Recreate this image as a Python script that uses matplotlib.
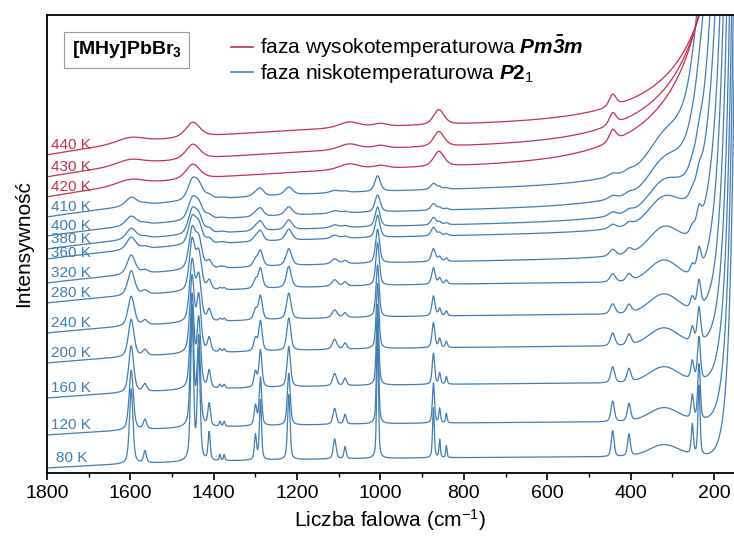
# Widma Ramana [MHy]PbBr3 w funkcji temperatury
import numpy as np
import matplotlib.pyplot as plt
from matplotlib.lines import Line2D

plt.rcParams['font.family'] = ['Liberation Sans', 'DejaVu Sans']
plt.rcParams['mathtext.fontset'] = 'custom'
plt.rcParams['mathtext.rm'] = 'Liberation Sans'
plt.rcParams['mathtext.it'] = 'Liberation Sans:italic'
plt.rcParams['mathtext.bf'] = 'Liberation Sans:bold'
plt.rcParams['mathtext.bfit'] = 'Liberation Sans:bold:italic'

# temperatury i przesunięcia widm (od dołu)
temps = [80, 120, 160, 200, 240, 280, 320, 360, 380, 400, 410, 420, 430, 440]
offsets = [5, 38, 75, 110, 140, 170, 190, 214, 224, 237, 256, 276, 296, 318]
bg_slope = [12, 14, 16, 18, 20, 22, 25, 27, 28, 30, 32, 35, 35, 35]
edge_pos = [150, 154, 158, 163, 170, 178, 186, 198, 210, 226, 240, 238, 237, 236]
edge_tau = [12, 13, 14, 15, 16, 18, 20, 22, 24, 26, 28, 40, 40, 40]
long_frac = [0, 0, 0, 0, 0, 0, 0.1, 0.15, 0.2, 0.25, 0.3, 0.75, 0.75, 0.75]
hump_h = [12, 14, 16, 18, 20, 22, 24, 24, 24, 24, 22, 0, 0, 0]
int_fac = [1.0, 0.8, 0.62, 0.5, 0.4, 0.33, 0.26, 0.17, 0.15, 0.13, 0.12, 0, 0, 0]
wid_fac = [1.0, 1.2, 1.4, 1.6, 1.8, 2.0, 2.3, 2.6, 2.8, 3.0, 3.2, 0, 0, 0]

# pasma fazy niskotemperaturowej (80 K): położenie, wysokość, pół-szerokość
lt_pos = [1598, 1565, 1452, 1436, 1411, 1385, 1375, 1300, 1288, 1220,
          1110, 1085, 1007, 873, 858, 842, 443, 404, 252, 236]
lt_h = [75, 12, 150, 110, 28, 6, 6, 25, 60, 65,
        20, 12, 130, 50, 18, 12, 26, 22, 30, 70]
lt_w = [5, 4, 4, 4, 3, 2, 2, 3, 3, 3.5,
        4, 3, 2.5, 2.5, 2, 1.8, 4, 4, 3, 3]

# pasma fazy wysokotemperaturowej
ht_pos = [1600, 1450, 1075, 1000, 860, 443]
ht_h = [6, 15, 6, 3, 15, 12]
ht_w = [40, 20, 30, 20, 15, 10]

red = '#c5304d'
blue = '#3f7db3'

x = np.linspace(1800, 150, 4000)


def pv(x, c, h, w):  # pseudo-Voigt
    u = (x - c) / w
    return h * (0.5 / (1 + u ** 2) + 0.5 * np.exp(-np.log(2) * u ** 2))


fig = plt.figure(figsize=(7.34, 5.38), dpi=100)
ax = fig.add_axes([47 / 734, 1 - 473 / 538, 687 / 734, 458 / 538])

for i, T in enumerate(temps):
    off = offsets[i]
    amp = 458 - off - bg_slope[i]
    y = off + bg_slope[i] * (1 - np.exp(-(1800 - x) / 500))
    d = x - edge_pos[i]
    y = y + amp * ((1 - long_frac[i]) * np.exp(-d / edge_tau[i])
                   + long_frac[i] * np.exp(-d / 130))
    y = y + hump_h[i] * np.exp(-((x - 320) / 50) ** 2)
    if T >= 420:
        col = red
        for c, h, w in zip(ht_pos, ht_h, ht_w):
            y = y + pv(x, c, h, w)
    else:
        col = blue
        for c, h, w in zip(lt_pos, lt_h, lt_w):
            y = y + pv(x, c, h * int_fac[i], w * wid_fac[i])
    ax.plot(x, y, color=col, lw=0.9)
    xt = 1778 if T == 80 else 1790
    dy = 6 if T == 360 else 10
    ax.text(xt, off + dy, f'{T} K', color=col, fontsize=11, va='center', ha='left')

ax.set_xlim(1800, 152)
ax.set_ylim(0, 458)
ax.set_yticks([])
ax.set_xticks(np.arange(1800, 150, -200))
ax.set_xticks(np.arange(1700, 150, -200), minor=True)
ax.tick_params(axis='x', which='major', labelsize=14, length=5, width=1.2, direction='out')
ax.tick_params(axis='x', which='minor', length=3, width=1.0, direction='out')
for s in ax.spines.values():
    s.set_linewidth(1.3)
ax.spines['right'].set_visible(False)
ax.set_xlabel('Liczba falowa (cm$^{-1}$)', fontsize=15, labelpad=4)
ax.set_ylabel('Intensywność', fontsize=15, labelpad=10)

ax.text(0.116, 0.924, r'[MHy]PbBr$_\mathbf{3}$', transform=ax.transAxes,
        fontsize=14, fontweight='bold', ha='center', va='center',
        bbox=dict(boxstyle='square,pad=0.4', fc='white', ec='#999999', lw=0.8))

handles = [Line2D([], [], color=red, lw=1.2), Line2D([], [], color=blue, lw=1.2)]
labels = [r'faza wysokotemperaturowa $\mathbfit{Pm\bar{3}m}$',
          r'faza niskotemperaturowa $\mathbfit{P}\mathbf{2}_{1}$']
ax.legend(handles, labels, loc='upper left', bbox_to_anchor=(0.255, 0.978),
          frameon=False, fontsize=15, handlelength=1.1, handletextpad=0.3,
          labelspacing=0.1, borderaxespad=0)

fig.savefig('out.png', dpi=100)
